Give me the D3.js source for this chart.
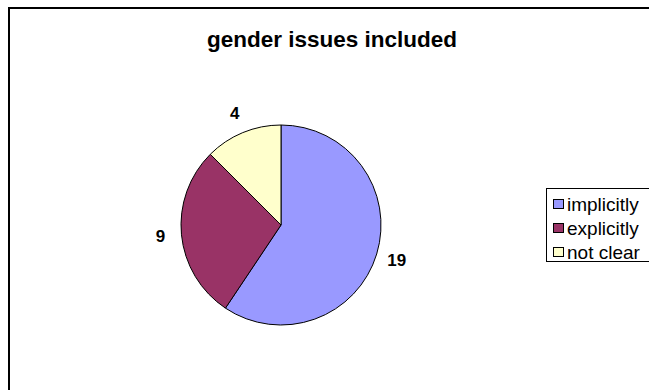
<!DOCTYPE html>
<html>
<head>
<meta charset="utf-8">
<script src="https://cdn.jsdelivr.net/npm/d3@7"></script>
<style>
  html, body { margin: 0; padding: 0; background: #fff; }
  svg { display: block; }
  text { font-family: Arial, "Liberation Sans", sans-serif; }
</style>
</head>
<body>
<svg id="chart" width="649" height="390"></svg>
<script>
// Chart data
const categories = ["implicitly", "explicitly", "not clear"];
const values = [19, 9, 4];
const colors = ["#9999FF", "#993366", "#FFFFCC"];
const title = "gender issues included";

const svg = d3.select("#chart");

// Outer chart frame (runs past the right and bottom edges)
svg.append("rect")
  .attr("x", 9).attr("y", 8)
  .attr("width", 660).attr("height", 400)
  .attr("fill", "#fff")
  .attr("stroke", "#000")
  .attr("stroke-width", 2);

// Title
svg.append("text")
  .attr("x", 332).attr("y", 47)
  .attr("text-anchor", "middle")
  .attr("font-size", 22.5)
  .attr("font-weight", "bold")
  .text(title);

// Pie
const cx = 281, cy = 225, r = 100;
const pie = d3.pie().sort(null).value(d => d.value);
const arcs = pie(categories.map((c, i) => ({ name: c, value: values[i], color: colors[i] })));
const arc = d3.arc().innerRadius(0).outerRadius(r);
const labelArc = d3.arc().innerRadius(121).outerRadius(121);

const g = svg.append("g").attr("transform", `translate(${cx},${cy})`);
g.selectAll("path.slice")
  .data(arcs)
  .join("path")
  .attr("class", "slice")
  .attr("d", arc)
  .attr("fill", d => d.data.color)
  .attr("stroke", "#000")
  .attr("stroke-width", 1);

g.selectAll("text.val")
  .data(arcs)
  .join("text")
  .attr("class", "val")
  .attr("transform", d => `translate(${labelArc.centroid(d)})`)
  .attr("text-anchor", "middle")
  .attr("dominant-baseline", "central")
  .attr("font-size", 17)
  .attr("font-weight", "bold")
  .text(d => d.data.value);

// Legend
const lg = svg.append("g");
lg.append("rect")
  .attr("x", 546.5).attr("y", 188.5)
  .attr("width", 120).attr("height", 73)
  .attr("fill", "#fff")
  .attr("stroke", "#000")
  .attr("stroke-width", 1);

const rows = lg.selectAll("g.row")
  .data(categories)
  .join("g")
  .attr("class", "row")
  .attr("transform", (d, i) => `translate(553, ${204 + i * 24})`);

rows.append("rect")
  .attr("x", 0.5).attr("y", -4.5)
  .attr("width", 10).attr("height", 9)
  .attr("fill", (d, i) => colors[i])
  .attr("stroke", "#000")
  .attr("stroke-width", 1);

rows.append("text")
  .attr("x", 14).attr("y", 0.5)
  .attr("dominant-baseline", "central")
  .attr("font-size", 19)
  .text(d => d);
</script>
</body>
</html>
